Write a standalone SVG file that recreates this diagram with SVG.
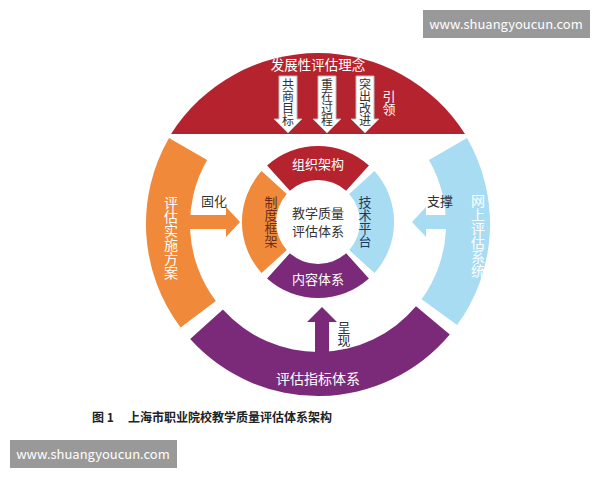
<svg xmlns="http://www.w3.org/2000/svg" width="600" height="480" viewBox="0 0 600 480">
<style>
text{font-family:"Noto Sans CJK SC","Liberation Sans",sans-serif}
.w{fill:#fff}.d{fill:#333}
.v{writing-mode:vertical-rl;text-anchor:middle}
.wa{fill:#fff;stroke:#bbb;stroke-width:1}
</style>
<rect width="600" height="480" fill="#fff"/>
<g id="outer-top"><path d="M171 134 A174 174 0 0 1 465 134 Z" fill="#b5232f"/>
<text x="318" y="70" class="w" font-size="13.5" text-anchor="middle">发展性评估理念</text>
<text x="389" y="103" class="w v" font-size="13">引领</text></g>
<g id="outer-left"><path d="M169 138 A172 172 0 0 0 180.6 327.5 L215.8 301 A128 128 0 0 1 207.1 160 Z" fill="#f08a3a"/>
<text x="171" y="238" class="w v" font-size="14">评估实施方案</text></g>
<g id="outer-right"><path d="M467 138 A172 172 0 0 1 457.1 325.1 L421.6 299.2 A128 128 0 0 0 428.9 160 Z" fill="#a8dcf2"/>
<text x="478" y="236" class="w v" font-size="14">网上评估系统</text></g>
<g id="outer-bottom"><path d="M449.8 334.6 A172 172 0 0 1 190.2 339.1 L222.9 309.6 A128 128 0 0 0 416 306.3 Z" fill="#7b2a7a"/>
<text x="318" y="384" class="w" font-size="14" text-anchor="middle">评估指标体系</text></g>
<g id="inner-top"><path d="M267.1 165.5 A76 76 0 0 1 368.9 165.5 L346.1 190.8 A42 42 0 0 0 289.9 190.8 Z" fill="#b5232f"/>
<text x="318" y="169" class="w" font-size="13" text-anchor="middle">组织架构</text></g>
<g id="inner-right"><path d="M374.5 171.1 A76 76 0 0 1 374.5 272.9 L349.2 250.1 A42 42 0 0 0 349.2 193.9 Z" fill="#a8dcf2"/>
<text x="365" y="222" class="v" fill="#1f3a5f" font-size="13">技术平台</text></g>
<g id="inner-bottom"><path d="M368.9 278.5 A76 76 0 0 1 267.1 278.5 L289.9 253.2 A42 42 0 0 0 346.1 253.2 Z" fill="#7b2a7a"/>
<text x="318" y="284" class="w" font-size="13" text-anchor="middle">内容体系</text></g>
<g id="inner-left"><path d="M261.5 272.9 A76 76 0 0 1 261.5 171.1 L286.8 193.9 A42 42 0 0 0 286.8 250.1 Z" fill="#f08a3a"/>
<text x="271" y="222" class="v" fill="#6a2a1a" font-size="13">制度框架</text></g>
<g id="center"><text x="318" y="218" class="d" font-size="13" text-anchor="middle">教学质量</text>
<text x="318" y="236" class="d" font-size="13" text-anchor="middle">评估体系</text></g>
<g id="connectors">
<polygon class="wa" points="279,76 297,76 297,119 302,119 288,133 274,119 279,119"/>
<polygon class="wa" points="318,76 336,76 336,119 341,119 327,133 313,119 318,119"/>
<polygon class="wa" points="356,76 374,76 374,119 379,119 365,133 351,119 356,119"/>
<polygon fill="#f08a3a" points="188,215 226,215 226,207 240,222 226,237 226,229 188,229"/>
<polygon fill="#a8dcf2" points="462,215 426,215 426,207 412,222 426,237 426,229 462,229"/>
<polygon fill="#7b2a7a" points="315,360 315,322 307,322 322,307 337,322 329,322 329,360"/>
</g>
<g id="labels">
<text x="288" y="102" class="d v" font-size="12">共商目标</text>
<text x="327" y="102" class="d v" font-size="12">重在过程</text>
<text x="365" y="102" class="d v" font-size="12">突出改进</text>
<text x="214" y="206" class="d" font-size="13" text-anchor="middle">固化</text>
<text x="440" y="206" class="d" font-size="13" text-anchor="middle">支撑</text>
<text x="344" y="334" class="d v" font-size="13">呈现</text>
</g>
<text x="92" y="422" fill="#222" font-size="12" font-weight="bold">图 1</text>
<text x="128" y="422" fill="#222" font-size="12" font-weight="bold">上海市职业院校教学质量评估体系架构</text>
<rect x="423" y="10" width="167" height="28" fill="#999"/>
<text x="506" y="29" class="w" font-size="13" text-anchor="middle" font-family="Liberation Sans">www.shuangyoucun.com</text>
<rect x="10" y="440" width="167" height="28" fill="#999"/>
<text x="93" y="459" class="w" font-size="13" text-anchor="middle" font-family="Liberation Sans">www.shuangyoucun.com</text>
</svg>
